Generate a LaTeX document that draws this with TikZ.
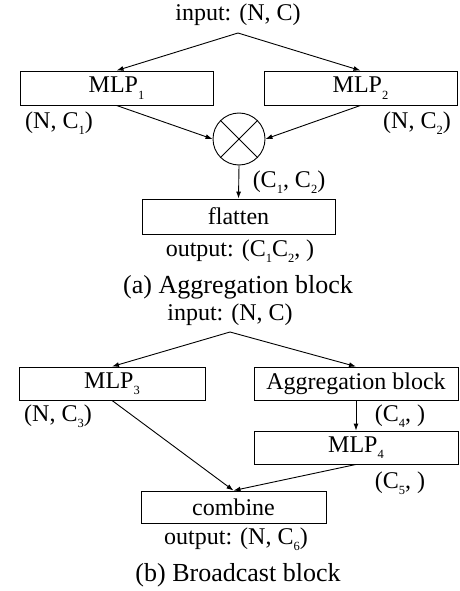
\documentclass[tikz,border=0pt]{standalone}
\usepackage{fontspec}
\setmainfont{Liberation Serif}
\usetikzlibrary{arrows.meta}
\newcommand\sbs[1]{\raisebox{-6.5pt}{\fontsize{12.5}{12.5}\selectfont #1}}
\begin{document}
\begin{tikzpicture}[x=1pt,y=-1pt,
  every node/.style={font=\fontsize{24}{27}\selectfont, inner sep=0pt},
  box/.style={draw, line width=0.9pt, minimum height=34pt},
  lbl/.style={},
  captn/.style={font=\fontsize{26}{30}\selectfont},
  arr/.style={-{Latex[length=7pt,width=5pt]}, line width=0.9pt},
  otimes/.style={draw, circle, line width=0.9pt, minimum size=52pt}]
\useasboundingbox (0,0) rectangle (459,591);
% (a) Aggregation block
\node[lbl] (in1) at (238,15) {input: (N, C)};
\coordinate (ap1) at (238,33);
\node[box, minimum width=193pt] (mlp1) at (116.5,88) {MLP\sbs{1}};
\node[box, minimum width=193pt] (mlp2) at (360.5,88) {MLP\sbs{2}};
\node[lbl] (nc1) at (59,123) {(N, C\sbs{1})};
\node[lbl] (nc2) at (417,123) {(N, C\sbs{2})};
\node[otimes] (ot) at (239,139) {};
\draw[line width=0.9pt] (ot.north west) -- (ot.south east) (ot.north east) -- (ot.south west);
\node[box, minimum width=193pt, minimum height=35pt] (fl) at (238.5,216.5) {flatten};
\node[lbl] (c12) at (289,182) {(C\sbs{1}, C\sbs{2})};
\node[lbl] (out1) at (240,251) {output: (C\sbs{1}C\sbs{2}, )};
\node[captn] (capa) at (238,287) {(a) Aggregation block};
\draw[arr] (ap1) -- (mlp1.north);
\draw[arr] (ap1) -- (mlp2.north);
\draw[arr] (mlp1.south) -- (ot.west);
\draw[arr] (mlp2.south) -- (ot.east);
\draw[arr] (ot.south) -- (fl.north);
% (b) Broadcast block
\node[lbl] (in2) at (230,315) {input: (N, C)};
\coordinate (ap2) at (230,332);
\node[box, minimum width=186pt, minimum height=33pt] (mlp3) at (112,383.5) {MLP\sbs{3}};
\node[box, minimum width=204pt, minimum height=33pt] (agg) at (356,383.5) {Aggregation block};
\node[lbl] (nc3) at (58,416) {(N, C\sbs{3})};
\node[lbl] (c4) at (400,416) {(C\sbs{4}, )};
\node[box, minimum width=204pt, minimum height=33pt] (mlp4) at (356,447.5) {MLP\sbs{4}};
\node[lbl] (c5) at (400,483) {(C\sbs{5}, )};
\node[box, minimum width=185pt, minimum height=32pt] (comb) at (233.5,507) {combine};
\node[lbl] (out2) at (236,539) {output: (N, C\sbs{6})};
\node[captn] (capb) at (238,575) {(b) Broadcast block};
\draw[arr] (ap2) -- (mlp3.north);
\draw[arr] (ap2) -- (agg.north);
\draw[arr] (agg.south) -- (mlp4.north);
\draw[arr] (mlp3.south) -- (comb.north);
\draw[arr] (mlp4.south) -- (comb.north);
\end{tikzpicture}
\end{document}
